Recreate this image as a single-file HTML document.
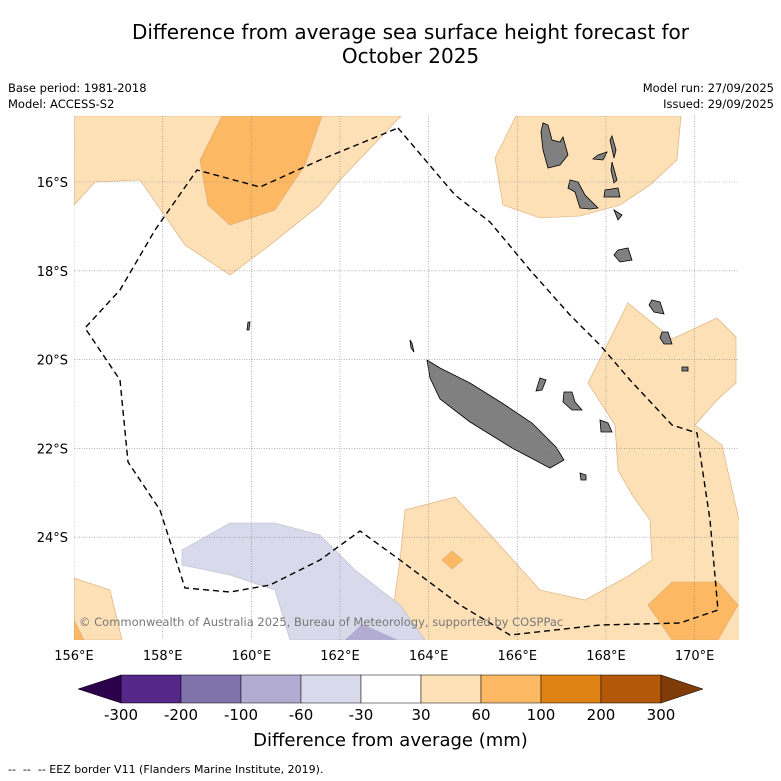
<!DOCTYPE html>
<html><head><meta charset="utf-8"><style>
body{margin:0;background:#fff;font-family:"DejaVu Sans","Liberation Sans",sans-serif;}
#c{position:relative;width:781px;height:781px;overflow:hidden;}
.t{position:absolute;white-space:nowrap;color:#000;}
</style></head><body>
<div id="c">
<div class="t" style="left:0;width:821px;top:20px;text-align:center;font-size:20px;line-height:24px;">Difference from average sea surface height forecast for<br>October 2025</div>
<div class="t" style="left:8px;top:80px;font-size:11.5px;line-height:16px;">Base period: 1981-2018<br>Model: ACCESS-S2</div>
<div class="t" style="right:7px;top:80px;font-size:11.5px;line-height:16px;text-align:right;">Model run: 27/09/2025<br>Issued: 29/09/2025</div>
<svg id="s" width="781" height="781" style="position:absolute;left:0;top:0" font-family="DejaVu Sans, Liberation Sans, sans-serif">
<defs><clipPath id="cl"><rect x="74" y="116" width="665" height="524"/></clipPath></defs>
<g id="map" clip-path="url(#cl)"></g>
<g id="ax"></g>
<g id="cb"></g>
</svg>
<div class="t" style="left:79px;top:615px;font-size:11.5px;color:#777;">© Commonwealth of Australia 2025, Bureau of Meteorology, supported by COSPPac</div>
<div class="t" style="left:0;width:781px;text-align:center;top:730px;font-size:18px;">Difference from average (mm)</div>
<div class="t" style="left:8px;top:763px;font-size:11px;">-- &nbsp;-- &nbsp;-- EEZ border V11 (Flanders Marine Institute, 2019).</div>
</div>
<script>
const lonTicks=[156,158,160,162,164,166,168,170];
const latTicks=[16,18,20,22,24];
const cbLevels=["-300","-200","-100","-60","-30","30","60","100","200","300"];
const cbColors=["#542788","#8073ac","#b2abd2","#d8daeb","#ffffff","#fee0b6","#fdb863","#e08214","#b35806"];
const NS="http://www.w3.org/2000/svg";
const X=l=>74+(l-156)*44.33, Y=la=>182+(la-16)*44.4;
function mk(p,tag,a){const e=document.createElementNS(NS,tag);for(const k in a)e.setAttribute(k,a[k]);p.appendChild(e);return e;}
const map=document.getElementById('map'),ax=document.getElementById('ax'),cb=document.getElementById('cb');
function poly(pts,fill,stroke,name){const e=mk(map,'polygon',{points:pts,fill:fill,stroke:stroke||'none','stroke-width':0.6});

return e;}
const LO="#fee0b6",MO="#fdb863",LS="#dca873";
poly("74,116 401,116 340,180 320,205 270,245 230,275 185,245 140,180 95,182 74,205",LO,LS,'anomaly-nw');
poly("222,116 322,116 305,165 275,210 230,225 208,205 200,160",MO,LS,'anomaly-nw-core');
poly("516,116 681,116 677,160 650,185 620,205 580,216 540,218 503,205 495,158",LO,LS,'anomaly-vanuatu');
poly("628,303 672,339 717,318 736,337 736,383 717,400 695,425 722,445 739,520 760,700 380,700 400,560 405,510 455,497 495,540 540,590 585,600 630,575 652,560 650,520 632,495 618,470 615,425 588,383",LO,LS,'anomaly-east');
poly("672,582 718,582 738,605 718,640 672,640 648,605",MO,LS,'anomaly-se-core');
poly("452,551 463,560 452,569 442,560",MO,LS,'anomaly-small');
poly("74,578 110,590 122,640 74,640",LO,LS,'anomaly-sw');
poly("74,620 84,640 74,640",MO,LS,'anomaly-sw-core');
poly("182,550 230,523 275,523 320,535 355,570 400,605 425,640 290,640 275,590 230,575 182,565","#d8daeb","#b8b8cc",'anomaly-negative');
poly("345,640 362,624 398,640","#b2abd2",'none','anomaly-negative-core');
const isl=["427,360 440,368 470,383 502,403 532,423 556,447 564,460 550,468 512,448 470,422 440,399 430,378",
"543,123 548,125 552,140 560,142 563,137 568,155 560,165 548,168 543,150 541,132",
"598,155 607,152 603,160 593,159","612,136 616,150 614,158 610,140","612,162 617,180 614,183 611,170",
"570,180 578,182 585,195 598,208 590,209 580,208 575,192 568,188","605,190 618,188 620,197 604,197",
"614,210 622,215 618,220","618,250 628,248 632,260 620,262 614,255","652,300 660,302 664,314 654,312 649,305",
"662,332 668,332 672,344 664,344 660,338","682,367 688,367 688,371 682,371",
"564,392 572,392 575,402 582,410 572,410 563,402","600,420 608,423 612,432 601,432","580,473 586,475 586,480 581,480",
"248,322 250,322 249,330 247,330","410,340 412,343 414,352 411,348","540,378 546,380 542,390 536,391"];
isl.forEach(p=>{const e=mk(map,'polygon',{points:p,fill:'#808080',stroke:'#000','stroke-width':0.8});

});
lonTicks.forEach(l=>{const e=mk(map,'line',{x1:X(l),x2:X(l),y1:116,y2:640,stroke:'#888','stroke-width':0.6,'stroke-dasharray':'1,1.5'});


const t=mk(ax,'text',{x:X(l),y:660,'text-anchor':'middle','font-size':13});t.textContent=l+'°E';

});
latTicks.forEach(la=>{const e=mk(map,'line',{x1:74,x2:739,y1:Y(la),y2:Y(la),stroke:'#888','stroke-width':0.6,'stroke-dasharray':'1,1.5'});


const t=mk(ax,'text',{x:68,y:Y(la)+5,'text-anchor':'end','font-size':13});t.textContent=la+'°S';

});
const eez=mk(map,'polyline',{points:"398,128 455,195 490,222 530,270 570,315 600,345 630,380 672,425 697,433 710,520 718,610 680,623 600,625 510,635 460,605 400,560 360,531 320,560 270,585 230,592 185,588 160,510 128,462 120,380 85,328 120,290 155,230 197,170 260,187 320,160 398,128",fill:'none',stroke:'#000','stroke-width':1.4,'stroke-dasharray':'6,4'});


const cx0=121,cw=60,cy=675,ch=28;
cbColors.forEach((c,i)=>{const r=mk(cb,'rect',{x:cx0+i*cw,y:cy,width:cw,height:ch,fill:c,stroke:'#000','stroke-width':0.5});

});
const lt=mk(cb,'polygon',{points:`${cx0},${cy} ${cx0},${cy+ch} 78,${cy+ch/2}`,fill:'#2d004b',stroke:'#000','stroke-width':0.5});


const rx=cx0+cbColors.length*cw;
const rt=mk(cb,'polygon',{points:`${rx},${cy} ${rx},${cy+ch} 703,${cy+ch/2}`,fill:'#7f3b08',stroke:'#000','stroke-width':0.5});


cbLevels.forEach((v,i)=>{const t=mk(cb,'text',{x:cx0+i*cw,y:720,'text-anchor':'middle','font-size':15});t.textContent=v;

});
</script>
</body></html>
